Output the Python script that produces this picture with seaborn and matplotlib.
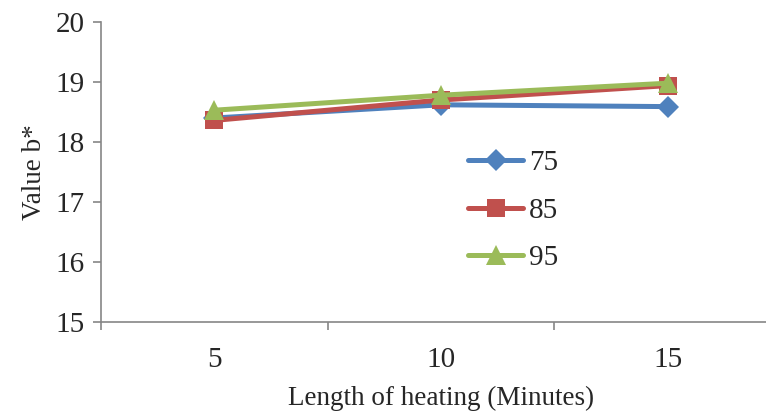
import matplotlib
matplotlib.use("Agg")
import matplotlib.pyplot as plt
import seaborn as sns
import pandas as pd
from matplotlib.ticker import FixedLocator, NullFormatter, FixedFormatter

categories = ["5", "10", "15"]
series_names = ["75", "85", "95"]
values_75 = [18.40, 18.62, 18.59]
values_85 = [18.36, 18.70, 18.94]
values_95 = [18.53, 18.78, 18.98]
y_ticks = [15, 16, 17, 18, 19, 20]

rows = []
for name, vals in zip(series_names, [values_75, values_85, values_95]):
    for i, (c, v) in enumerate(zip(categories, vals)):
        rows.append({"pos": i, "cat": c, "series": name, "value": v})
df = pd.DataFrame(rows)

sns.set_theme(style="white")
plt.rcParams['font.family'] = ['Liberation Serif', 'DejaVu Serif']

W, H = 766, 412
fig = plt.figure(figsize=(W / 100, H / 100), dpi=100)
left, right, top, bottom = 101, 781, 22, 322
ax = fig.add_axes([left / W, 1 - bottom / H, (right - left) / W, (bottom - top) / H])

colors = {"75": "#4F81BD", "85": "#C0504D", "95": "#9BBB59"}
markers = {"75": "D", "85": "s", "95": "^"}
sizes = {"75": 11, "85": 13, "95": 14}

for name in series_names:
    sub = df[df.series == name]
    sns.lineplot(data=sub, x="pos", y="value", ax=ax, color=colors[name],
                 marker=markers[name], markersize=sizes[name], linewidth=3.6,
                 markeredgewidth=0, label=name)

ax.set_xlim(-0.5, 2.5)
ax.set_ylim(15, 20)
ax.set_yticks(y_ticks)
ax.set_yticklabels([str(t) for t in y_ticks], fontsize=21)

ax.xaxis.set_major_locator(FixedLocator([-0.5, 0.5, 1.5, 2.5]))
ax.xaxis.set_major_formatter(NullFormatter())
ax.xaxis.set_minor_locator(FixedLocator([0, 1, 2]))
ax.xaxis.set_minor_formatter(FixedFormatter(categories))
ax.tick_params(axis="x", which="minor", bottom=True, length=0, labelsize=21, pad=18)
ax.tick_params(axis="x", which="major", bottom=True, length=6, width=1.2, color="#868686", direction="out")
ax.tick_params(axis="y", which="major", left=True, length=6, width=1.2, color="#868686", direction="out", pad=6)

for s in ["top", "right"]:
    ax.spines[s].set_visible(False)
for s in ["left", "bottom"]:
    ax.spines[s].set_color("#868686")
    ax.spines[s].set_linewidth(1.2)

ax.set_xlabel("Length of heating (Minutes)", fontsize=19.5, labelpad=9)
ax.set_ylabel("Value b*", fontsize=19.5, labelpad=6)

leg = ax.legend(loc="upper left", bbox_to_anchor=((468 - left) / (right - left), 1 - (150 - top) / (bottom - top)),
                bbox_transform=ax.transAxes, frameon=False, fontsize=21,
                handlelength=1.9, handletextpad=0.2, labelspacing=0.72, borderaxespad=0, borderpad=0)

fig.savefig("out.png", dpi=100)
